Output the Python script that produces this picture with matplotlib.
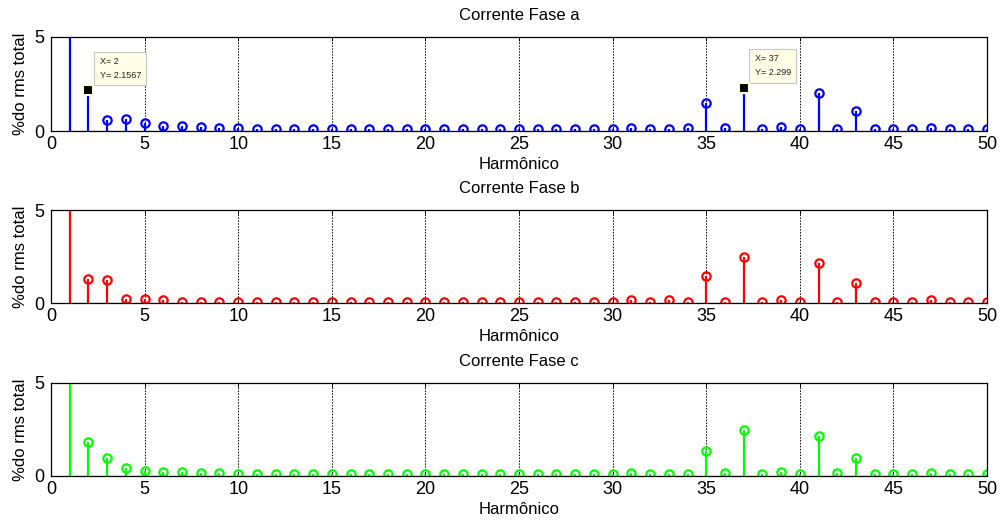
import numpy as np
import matplotlib
matplotlib.use("Agg")
import matplotlib.pyplot as plt

plt.rcParams['font.family'] = ['Liberation Sans', 'DejaVu Sans']

harmonics = list(range(1, 51))

# % of total rms per harmonic (1st harmonic is the fundamental)
phase_a = [99.9, 2.1567, 0.58, 0.62, 0.44, 0.28, 0.25, 0.21, 0.16, 0.16,
           0.09, 0.09, 0.09, 0.09, 0.09, 0.09, 0.09, 0.09, 0.09, 0.09,
           0.09, 0.09, 0.09, 0.09, 0.09, 0.09, 0.09, 0.09, 0.09, 0.10,
           0.18, 0.12, 0.12, 0.18, 1.47, 0.16, 2.299, 0.12, 0.21, 0.12,
           2.01, 0.10, 1.06, 0.12, 0.12, 0.12, 0.18, 0.12, 0.12, 0.10]
phase_b = [99.9, 1.27, 1.23, 0.23, 0.20, 0.14, 0.07, 0.07, 0.07, 0.07,
           0.07, 0.07, 0.07, 0.07, 0.07, 0.07, 0.07, 0.07, 0.07, 0.07,
           0.07, 0.07, 0.07, 0.07, 0.07, 0.07, 0.07, 0.07, 0.07, 0.07,
           0.14, 0.07, 0.14, 0.07, 1.45, 0.07, 2.48, 0.07, 0.14, 0.07,
           2.16, 0.07, 1.07, 0.07, 0.07, 0.07, 0.14, 0.07, 0.07, 0.07]
phase_c = [99.9, 1.83, 0.99, 0.41, 0.29, 0.23, 0.23, 0.14, 0.14, 0.09,
           0.09, 0.09, 0.09, 0.09, 0.09, 0.09, 0.09, 0.09, 0.09, 0.09,
           0.09, 0.09, 0.09, 0.09, 0.09, 0.09, 0.09, 0.09, 0.09, 0.09,
           0.14, 0.09, 0.09, 0.09, 1.35, 0.14, 2.46, 0.09, 0.23, 0.09,
           2.14, 0.14, 0.97, 0.09, 0.09, 0.09, 0.14, 0.09, 0.09, 0.09]

titles = ["Corrente Fase a", "Corrente Fase b", "Corrente Fase c"]
colors = ["#0000ff", "#ff0000", "#00ff00"]
series = [phase_a, phase_b, phase_c]
datatips_a = [2, 37]

xticks = [0, 5, 10, 15, 20, 25, 30, 35, 40, 45, 50]
yticks = [0, 5]

fig = plt.figure(figsize=(10.04, 5.27), dpi=100)
positions = [
    [0.0508, 0.7514, 0.9323, 0.1784],
    [0.0508, 0.4250, 0.9323, 0.1765],
    [0.0508, 0.0968, 0.9323, 0.1765],
]

for pos, title, color, vals in zip(positions, titles, colors, series):
    ax = fig.add_axes(pos)
    markerline, stemlines, baseline = ax.stem(harmonics, vals)
    markerline.set_marker('o')
    markerline.set_markersize(6)
    markerline.set_markerfacecolor('none')
    markerline.set_markeredgecolor(color)
    markerline.set_markeredgewidth(1.6)
    markerline.set_linestyle('none')
    stemlines.set_color(color)
    stemlines.set_linewidth(1.6)
    baseline.set_color('black')
    baseline.set_linewidth(0.8)

    ax.set_xlim(0, 50)
    ax.set_ylim(0, 5)
    ax.set_xticks(xticks)
    ax.set_yticks(yticks)
    ax.grid(axis='x', color='black', linestyle=(0, (1.5, 1.5)), linewidth=0.7)
    ax.tick_params(direction='in', top=True, right=True, labelsize=13,
                   length=3, width=0.7)
    ax.tick_params(axis='x', pad=3.5)
    ax.tick_params(axis='y', pad=5)
    for sp in ax.spines.values():
        sp.set_linewidth(0.9)
    ax.set_title(title, fontsize=12, pad=12.5)
    ax.set_xlabel("Harmônico", fontsize=12, labelpad=3)
    ax.set_ylabel("%do rms total", fontsize=12, labelpad=4)

    if vals is phase_a:
        for h in datatips_a:
            y = vals[h - 1]
            ax.plot([h], [y], marker='s', markersize=6.5, markerfacecolor='black',
                    markeredgecolor='#fffde0', markeredgewidth=1.5, zorder=8,
                    clip_on=False)
            ax.annotate("X= %d\nY= %s" % (h, ("%.5g" % y)), xy=(h, y),
                        xytext=(8, 7.5), textcoords='offset points',
                        ha='left', va='bottom', fontsize=6.5, color='#222222',
                        linespacing=1.7,
                        bbox=dict(boxstyle='square,pad=0.6', facecolor='#fffde6',
                                  edgecolor='#c8c8c8', linewidth=0.8),
                        zorder=6)

fig.savefig("out.png", dpi=100)
